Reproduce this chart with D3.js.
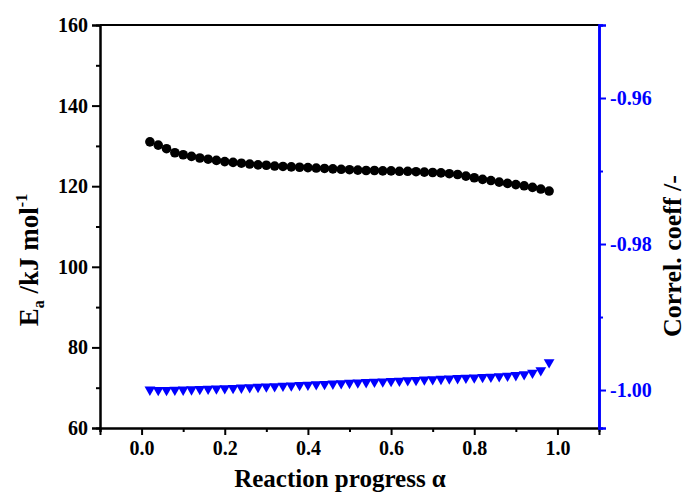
<!DOCTYPE html>
<html>
<head>
<meta charset="utf-8">
<script src="https://cdn.jsdelivr.net/npm/d3@7"></script>
<style>
  body { margin: 0; background: #fff; }
  text { font-family: "Liberation Serif", "Times New Roman", serif; font-weight: bold; }
</style>
</head>
<body>
<svg id="chart" width="689" height="494"></svg>
<script>
// reaction progress
var alpha = [0.02, 0.04, 0.06, 0.08, 0.10, 0.12, 0.14, 0.16, 0.18, 0.20,
             0.22, 0.24, 0.26, 0.28, 0.30, 0.32, 0.34, 0.36, 0.38, 0.40,
             0.42, 0.44, 0.46, 0.48, 0.50, 0.52, 0.54, 0.56, 0.58, 0.60,
             0.62, 0.64, 0.66, 0.68, 0.70, 0.72, 0.74, 0.76, 0.78, 0.80,
             0.82, 0.84, 0.86, 0.88, 0.90, 0.92, 0.94, 0.96, 0.98];

// activation energy, kJ/mol
var ea = [131.0, 130.2, 129.3, 128.3, 127.8, 127.4, 127.0, 126.7, 126.4, 126.1,
          125.9, 125.7, 125.5, 125.3, 125.2, 125.0, 124.9, 124.8, 124.7, 124.6,
          124.5, 124.4, 124.3, 124.2, 124.1, 124.0, 123.9, 123.9, 123.8, 123.8,
          123.7, 123.7, 123.6, 123.5, 123.4, 123.3, 123.1, 122.9, 122.5, 122.1,
          121.7, 121.4, 121.0, 120.7, 120.4, 120.1, 119.7, 119.3, 118.8];

// correlation coefficient
var corr = [-0.99995, -1.00000, -1.00000, -0.99998, -0.99995, -0.99992, -0.99988, -0.99984, -0.99980, -0.99976,
            -0.99972, -0.99968, -0.99963, -0.99958, -0.99953, -0.99948, -0.99943, -0.99938, -0.99933, -0.99928,
            -0.99923, -0.99918, -0.99913, -0.99908, -0.99903, -0.99898, -0.99893, -0.99888, -0.99883, -0.99878,
            -0.99873, -0.99868, -0.99863, -0.99858, -0.99853, -0.99848, -0.99843, -0.99838, -0.99833, -0.99828,
            -0.99823, -0.99818, -0.99812, -0.99805, -0.99797, -0.99785, -0.99765, -0.99730, -0.99620];

var xTicks = [0.0, 0.2, 0.4, 0.6, 0.8, 1.0];
var yTicks = [60, 80, 100, 120, 140, 160];
var y2Ticks = [-1.00, -0.98, -0.96];

var svg = d3.select("#chart");
var mLeft = 100, mRight = 599, mTop = 25, mBottom = 428;

var x = d3.scaleLinear().domain([-0.1, 1.1]).range([mLeft, mRight]);
var y = d3.scaleLinear().domain([60, 160]).range([mBottom, mTop]);
var y2 = d3.scaleLinear().domain([-1.0052, -0.95]).range([mBottom, mTop]);

// top frame line
svg.append("line")
    .attr("x1", mLeft).attr("x2", mRight)
    .attr("y1", mTop).attr("y2", mTop)
    .attr("stroke", "#000").attr("stroke-width", 2);

// bottom axis
var xAxis = svg.append("g").attr("transform", "translate(0," + mBottom + ")");
xAxis.append("g").call(d3.axisBottom(x).tickValues([-0.1, 0.1, 0.3, 0.5, 0.7, 0.9]).tickSize(4).tickFormat(""));
xAxis.append("g").call(d3.axisBottom(x).tickValues(xTicks).tickSize(7).tickPadding(6).tickFormat(d3.format(".1f")));
xAxis.selectAll("path").attr("stroke-width", 2);
xAxis.selectAll("line").attr("stroke-width", 2);
xAxis.selectAll("text").attr("font-size", 20).attr("fill", "#000");

// left axis
var yAxis = svg.append("g").attr("transform", "translate(" + mLeft + ",0)");
yAxis.append("g").call(d3.axisLeft(y).tickValues([70, 90, 110, 130, 150]).tickSize(4).tickFormat(""));
yAxis.append("g").call(d3.axisLeft(y).tickValues(yTicks).tickSize(8).tickPadding(4).tickFormat(d3.format("d")));
yAxis.selectAll("path").attr("stroke-width", 2);
yAxis.selectAll("line").attr("stroke-width", 2);
yAxis.selectAll("text").attr("font-size", 20).attr("fill", "#000");

// right axis (plain hyphen for minus, like the original)
var y2Axis = svg.append("g").attr("transform", "translate(" + mRight + ",0)");
y2Axis.append("g").call(d3.axisRight(y2).tickValues([-0.99, -0.97]).tickSize(4).tickFormat(""));
y2Axis.append("g").call(d3.axisRight(y2).tickValues(y2Ticks).tickSize(7).tickPadding(4)
    .tickFormat(function(d) { return d.toFixed(2); }));
y2Axis.selectAll("path").attr("stroke", "#0000ff").attr("stroke-width", 2.5);
y2Axis.selectAll("line").attr("stroke", "#0000ff").attr("stroke-width", 2);
y2Axis.selectAll("text").attr("font-size", 20).attr("fill", "#0000ff");

// Ea points
svg.append("g").selectAll(".dot")
    .data(alpha)
    .enter().append("circle")
    .attr("class", "dot")
    .attr("cx", function(d) { return x(d); })
    .attr("cy", function(d, i) { return y(ea[i]); })
    .attr("r", 4.8)
    .attr("fill", "#000");

// correlation triangles
var tri = d3.symbol().type(d3.symbolTriangle).size(50);
svg.append("g").selectAll(".tri")
    .data(alpha)
    .enter().append("path")
    .attr("class", "tri")
    .attr("d", tri)
    .attr("transform", function(d, i) {
        return "translate(" + x(d) + "," + y2(corr[i]) + ") rotate(180)";
    })
    .attr("fill", "#0000ff");

// axis titles
svg.append("text")
    .attr("x", 340).attr("y", 487)
    .attr("text-anchor", "middle")
    .attr("font-size", 25)
    .text("Reaction progress \u03b1");

var lt = svg.append("text")
    .attr("transform", "translate(38,260) rotate(-90)")
    .attr("text-anchor", "middle")
    .attr("font-size", 27);
lt.append("tspan").text("E");
lt.append("tspan").attr("font-size", 16).attr("dy", 6).text("a");
lt.append("tspan").attr("dy", -6).text(" /kJ mol");
lt.append("tspan").attr("font-size", 16).attr("dy", -11).text("-1");

svg.append("text")
    .attr("transform", "translate(681,256) rotate(-90)")
    .attr("text-anchor", "middle")
    .attr("font-size", 26)
    .text("Correl. coeff /-");
</script>
</body>
</html>
